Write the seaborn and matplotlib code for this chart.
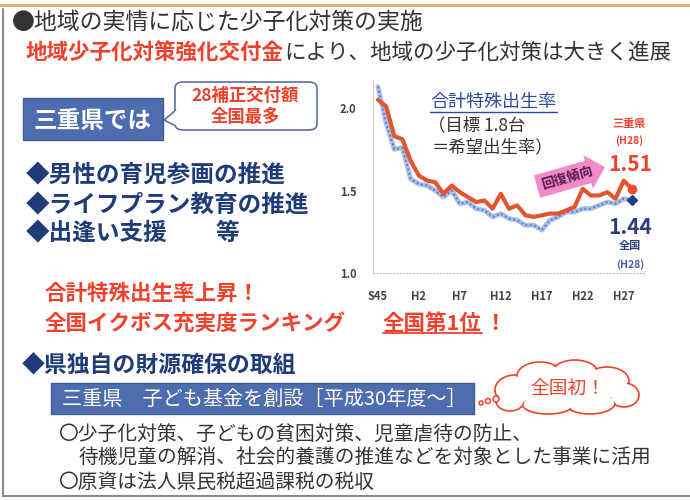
import matplotlib
matplotlib.use('Agg')
import matplotlib.pyplot as plt
import seaborn as sns
import pandas as pd
from matplotlib.patches import Rectangle, FancyBboxPatch, Polygon, Ellipse
from matplotlib.lines import Line2D

### data ###
years = ['S45', 'S50', 'S55', 'S60', 'H1', 'H2', 'H3', 'H4', 'H5', 'H6', 'H7', 'H8',
         'H9', 'H10', 'H11', 'H12', 'H13', 'H14', 'H15', 'H16', 'H17', 'H18', 'H19',
         'H20', 'H21', 'H22', 'H23', 'H24', 'H25', 'H26', 'H27', 'H28']
mie = [2.05, 2.01, 1.83, 1.81, 1.68, 1.59, 1.56, 1.55, 1.48, 1.53, 1.49, 1.46,
       1.43, 1.44, 1.39, 1.48, 1.39, 1.41, 1.35, 1.34, 1.35, 1.36, 1.36,
       1.38, 1.40, 1.51, 1.47, 1.47, 1.49, 1.45, 1.56, 1.51]
zenkoku = [2.13, 1.91, 1.75, 1.76, 1.57, 1.54, 1.53, 1.50, 1.46, 1.50, 1.42, 1.43,
           1.39, 1.38, 1.34, 1.36, 1.33, 1.32, 1.29, 1.29, 1.26, 1.32, 1.34,
           1.37, 1.37, 1.39, 1.39, 1.41, 1.43, 1.42, 1.45, 1.44]
tick_labels = ['S45', 'H2', 'H7', 'H12', 'H17', 'H22', 'H27']
y_ticks = [1.0, 1.5, 2.0]

df = pd.DataFrame({'idx': range(len(years)), 'year': years, 'mie': mie, 'zenkoku': zenkoku})

### style ###
sns.set_theme(style='white')
plt.rcParams['font.family'] = ['Noto Sans CJK JP', 'DejaVu Sans']

W, H = 690, 500
fig = plt.figure(figsize=(6.9, 5), dpi=100)
fig.patch.set_facecolor('white')
renderer = fig.canvas.get_renderer()

def fx(x):
    return x / W

def fy(y):
    return 1 - y / H

def txt(x, y, s, **kw):
    kw.setdefault('va', 'center')
    kw.setdefault('ha', 'left')
    return fig.text(fx(x), fy(y), s, **kw)

def right_edge(t):
    # テキストの右端(px)
    return t.get_window_extent(renderer).x1

RED = '#F0412C'
NAVY = '#1F3C78'
DARK = '#333333'
BOXBLUE = '#4D6DAE'

# 枠線
fig.add_artist(Line2D([0, 1], [fy(5), fy(5)], color='#E2A865', lw=2))
fig.add_artist(Line2D([fx(3), fx(3)], [fy(9), fy(496)], color='#8A8A8A', lw=1.5))
fig.add_artist(Line2D([fx(3), 1], [fy(496), fy(496)], color='#8A8A8A', lw=1.5))

# 見出し
txt(12, 22, '●地域の実情に応じた少子化対策の実施', fontsize=16.5, color=DARK)
t = txt(26, 53, '地域少子化対策強化交付金', fontsize=15.5, color=RED, fontweight='bold')
txt(right_edge(t), 53, 'により、地域の少子化対策は大きく進展', fontsize=15.5, color=DARK)

# 三重県では
fig.add_artist(Rectangle((fx(23), fy(140)), fx(140), 42 / H, facecolor=BOXBLUE,
                         edgecolor='#3F5C99', lw=1))
txt(93, 121, '三重県では', fontsize=17, color='white', ha='center', fontweight='bold')

# 吹き出し
fig.add_artist(FancyBboxPatch((fx(175), fy(130)), fx(142), 48 / H,
                              boxstyle='round,pad=0,rounding_size=0.012',
                              facecolor='white', edgecolor='#5A6FA0', lw=1.2))
fig.add_artist(Polygon([(fx(176), fy(110)), (fx(164), fy(120)), (fx(176), fy(126))],
                       closed=False, facecolor='white', edgecolor='#5A6FA0', lw=1.2))
fig.add_artist(Rectangle((fx(174.5), fy(125)), fx(2.5), 14 / H, facecolor='white', lw=0))
txt(245, 96, '28補正交付額', fontsize=12.5, color=RED, ha='center', fontweight='bold')
txt(245, 117, '全国最多', fontsize=12.5, color=RED, ha='center', fontweight='bold')

# 取組
txt(26, 175, '◆男性の育児参画の推進', fontsize=17, color=NAVY, fontweight='bold')
txt(26, 205, '◆ライフプラン教育の推進', fontsize=17, color=NAVY, fontweight='bold')
txt(26, 233, '◆出逢い支援', fontsize=17, color=NAVY, fontweight='bold')
txt(216, 233, '等', fontsize=17, color=NAVY, fontweight='bold')

txt(45, 293, '合計特殊出生率上昇！', fontsize=15.5, color=RED, fontweight='bold')
txt(45, 323, '全国イクボス充実度ランキング', fontsize=15.5, color=RED, fontweight='bold')
t = txt(383, 323, '全国第1位', fontsize=15.5, color=RED, fontweight='bold')
x1 = right_edge(t)
txt(x1 + 2, 323, '！', fontsize=15.5, color=RED, fontweight='bold')
fig.add_artist(Line2D([fx(383), fx(x1)], [fy(333), fy(333)], color=RED, lw=1.3))

txt(22, 366, '◆県独自の財源確保の取組', fontsize=16.5, color=NAVY, fontweight='bold')

# 子ども基金
fig.add_artist(Rectangle((fx(51), fy(414)), fx(423), 31 / H, facecolor=BOXBLUE,
                         edgecolor='#3F5C99', lw=1))
txt(62, 399, '三重県　子ども基金を創設［平成30年度～］', fontsize=14.5, color='white')

# 雲
cloud = [(565, 389, 112, 34), (515, 390, 40, 30), (540, 376, 46, 28), (575, 373, 46, 26),
         (607, 381, 44, 28), (624, 395, 30, 24), (590, 403, 50, 22), (548, 404, 52, 20),
         (510, 401, 28, 20)]
for cx, cy, w, h in cloud:
    fig.add_artist(Ellipse((fx(cx), fy(cy)), fx(w), h / H, facecolor='white',
                           edgecolor=RED, lw=1.2))
for cx, cy, w, h in cloud:
    fig.add_artist(Ellipse((fx(cx), fy(cy)), fx(w - 3.5), (h - 3.5) / H,
                           facecolor='white', edgecolor='none'))
for cx, cy, r in [(481, 403, 4), (488, 401, 5), (496, 399, 6)]:
    fig.add_artist(Ellipse((fx(cx), fy(cy)), fx(r), r / H, facecolor='white',
                           edgecolor=RED, lw=1.1))
txt(568, 389, '全国初！', fontsize=13.5, color=RED, ha='center')

txt(58, 434, '〇少子化対策、子どもの貧困対策、児童虐待の防止、', fontsize=14.2, color=DARK)
txt(78, 458, '待機児童の解消、社会的養護の推進などを対象とした事業に活用', fontsize=14.2, color=DARK)
txt(58, 482, '〇原資は法人県民税超過課税の税収', fontsize=14.2, color=DARK)

### chart ###
ax = fig.add_axes([fx(373), fy(273), fx(645 - 373), (273 - 80) / H])
ax.set_facecolor('none')
sns.lineplot(data=df, x='idx', y='zenkoku', ax=ax, color='#A8BEE8', lw=3.5)
sns.lineplot(data=df, x='idx', y='zenkoku', ax=ax, color='#5877C0', lw=1.3, linestyle=(0, (1, 1.5)))
sns.lineplot(data=df, x='idx', y='mie', ax=ax, color='#E2552E', lw=3)
last = df.iloc[-1]
ax.plot(last['idx'], last['zenkoku'], marker='D', color='#283C80', ms=5)
ax.plot(last['idx'], last['mie'], marker='o', color='#F04A2A', ms=6)

ax.set_xlim(-0.6, 32.6)
ax.set_ylim(1.0, 2.17)
ax.set_xticks([years.index(t) for t in tick_labels])
ax.set_xticklabels(tick_labels, fontsize=8, color='#444444', fontweight='bold')
ax.set_yticks(y_ticks)
ax.set_yticklabels([f'{v:.1f}' for v in y_ticks], fontsize=8, color='#444444', fontweight='bold')
ax.tick_params(length=0, pad=12)
ax.set_xlabel('')
ax.set_ylabel('')
for s in ['top', 'right']:
    ax.spines[s].set_visible(False)
ax.spines['left'].set_color('#CCCCCC')
ax.spines['left'].set_linewidth(0.8)
ax.spines['bottom'].set_color('#BBBBBB')
ax.spines['bottom'].set_linestyle((0, (1, 2)))
ax.spines['bottom'].set_linewidth(0.8)

# chart annotations
txt(430, 102, '合計特殊出生率', fontsize=13, color='#2F4C9C')
fig.add_artist(Line2D([fx(430), fx(557)], [fy(112), fy(112)], color='#2F4C9C', lw=1))
txt(428, 125, '（目標 1.8台', fontsize=12.5, color=DARK)
txt(432, 147, '＝希望出生率）', fontsize=12.5, color=DARK)

txt(629, 123, '三重県', fontsize=8, color=RED, ha='center', fontweight='bold')
txt(629, 141, '(H28)', fontsize=7.5, color=RED, ha='center', fontweight='bold')
txt(630, 164, '1.51', fontsize=15, color=RED, ha='center', fontweight='bold')
txt(630, 227, '1.44', fontsize=15, color='#2B3E80', ha='center', fontweight='bold')
txt(630, 246, '全国', fontsize=8, color='#2B3E80', ha='center', fontweight='bold')
txt(630, 265, '(H28)', fontsize=7.5, color='#4A5FA0', ha='center', fontweight='bold')

txt(567, 178, '回復傾向', fontsize=9.5, color='#5A1848', ha='center', fontweight='bold',
    rotation=16, rotation_mode='anchor',
    bbox=dict(boxstyle='rarrow,pad=0.35', facecolor='#F08AC8', edgecolor='none'))

fig.savefig('out.png', dpi=100)
